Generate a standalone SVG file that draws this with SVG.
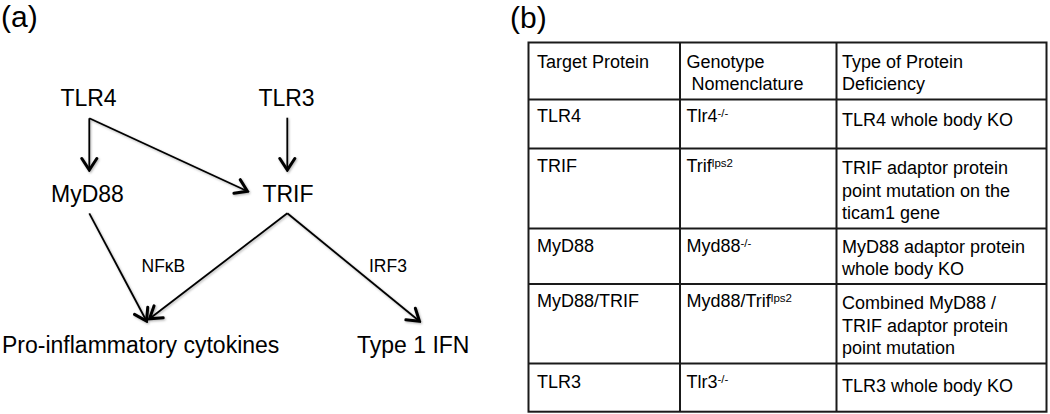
<svg xmlns="http://www.w3.org/2000/svg" width="1050" height="414" viewBox="0 0 1050 414">
<style>
text{font-family:"Liberation Sans",Arial,Helvetica,sans-serif;fill:#000}
.lbl{font-size:23px}
.sm{font-size:17.5px}
.panel{font-size:30px}
.tt{font-size:18px}
.sup{font-size:11.5px}
.conn{stroke:#000;stroke-width:1.8;fill:none;marker-end:url(#chev)}
.grid{stroke:#1a1a1a;stroke-width:2;fill:none}
</style>
<defs>
<marker id="chev" markerUnits="userSpaceOnUse" viewBox="-16 -11 18 22" markerWidth="18" markerHeight="22" refX="0" refY="0" orient="auto">
<path d="M-11.5,-7.5 L0,0 L-11.5,7.5" fill="none" stroke="#000" stroke-width="3" stroke-linecap="round" stroke-linejoin="miter"/>
</marker>
<filter id="sh" x="-20%" y="-20%" width="140%" height="140%">
<feDropShadow dx="1" dy="1.2" stdDeviation="0.9" flood-color="#000" flood-opacity="0.3"/>
</filter>
</defs>
<rect width="1050" height="414" fill="#fff"/>

<text class="panel" x="1" y="27">(a)</text>
<text class="panel" x="510" y="28">(b)</text>

<g id="connectors" filter="url(#sh)">
<path class="conn" d="M89.3,118.3 L89.3,170"/>
<path class="conn" d="M89.3,118.3 L247.5,191.3"/>
<path class="conn" d="M287.3,117.7 L287.3,170"/>
<path class="conn" d="M89.3,213.3 L146.5,321"/>
<path class="conn" d="M287.3,213.3 L149.5,318.8"/>
<path class="conn" d="M287.3,213.3 L419.5,321.3"/>
</g>

<g id="node-tlr4"><text class="lbl" x="88.5" y="106" text-anchor="middle">TLR4</text></g>
<g id="node-tlr3"><text class="lbl" x="286.5" y="106" text-anchor="middle">TLR3</text></g>
<g id="node-myd88"><text class="lbl" x="87.5" y="201.7" text-anchor="middle">MyD88</text></g>
<g id="node-trif"><text class="lbl" x="288" y="201.7" text-anchor="middle">TRIF</text></g>
<g id="node-proinflammatory"><text class="lbl" x="2" y="353.3">Pro-inflammatory cytokines</text></g>
<g id="node-type1ifn"><text class="lbl" x="357" y="353">Type 1 IFN</text></g>
<g id="label-nfkb"><text class="sm" x="141.5" y="272.3">NFκB</text></g>
<g id="label-irf3"><text class="sm" x="369" y="272.3">IRF3</text></g>

<g id="table">
<rect class="grid" x="528.5" y="42.5" width="518" height="369.2"/>
<line class="grid" x1="680" y1="42.5" x2="680" y2="411.7"/>
<line class="grid" x1="836.5" y1="42.5" x2="836.5" y2="411.7"/>
<line class="grid" x1="528.5" y1="99.5" x2="1046.5" y2="99.5"/>
<line class="grid" x1="528.5" y1="148.5" x2="1046.5" y2="148.5"/>
<line class="grid" x1="528.5" y1="228.5" x2="1046.5" y2="228.5"/>
<line class="grid" x1="528.5" y1="284" x2="1046.5" y2="284"/>
<line class="grid" x1="528.5" y1="363.5" x2="1046.5" y2="363.5"/>

<g id="row-header">
<text class="tt" x="537" y="68.3">Target Protein</text>
<text class="tt" x="686.5" y="68.3">Genotype</text>
<text class="tt" x="691.5" y="90">Nomenclature</text>
<text class="tt" x="842" y="68.3">Type of Protein</text>
<text class="tt" x="842" y="90">Deficiency</text>
</g>
<g id="row-tlr4">
<text class="tt" x="537" y="122.3">TLR4</text>
<text class="tt" x="686.5" y="122.3">Tlr4<tspan class="sup" dy="-5">-/-</tspan></text>
<text class="tt" x="842" y="125.7">TLR4 whole body KO</text>
</g>
<g id="row-trif">
<text class="tt" x="537" y="171.7">TRIF</text>
<text class="tt" x="686.5" y="171.7">Trif<tspan class="sup" dy="-5">lps2</tspan></text>
<text class="tt" x="842" y="174.3">TRIF adaptor protein</text>
<text class="tt" x="842" y="196.7">point mutation on the</text>
<text class="tt" x="842" y="218.5">ticam1 gene</text>
</g>
<g id="row-myd88">
<text class="tt" x="537" y="251.7">MyD88</text>
<text class="tt" x="686.5" y="251.7">Myd88<tspan class="sup" dy="-5">-/-</tspan></text>
<text class="tt" x="842" y="252.5">MyD88 adaptor protein</text>
<text class="tt" x="842" y="275">whole body KO</text>
</g>
<g id="row-myd88-trif">
<text class="tt" x="537" y="306.7">MyD88/TRIF</text>
<text class="tt" x="686.5" y="306.7">Myd88/Trif<tspan class="sup" dy="-5">lps2</tspan></text>
<text class="tt" x="842" y="309">Combined MyD88 /</text>
<text class="tt" x="842" y="331.5">TRIF adaptor protein</text>
<text class="tt" x="842" y="353.5">point mutation</text>
</g>
<g id="row-tlr3">
<text class="tt" x="537" y="388.3">TLR3</text>
<text class="tt" x="686.5" y="388.3">Tlr3<tspan class="sup" dy="-5">-/-</tspan></text>
<text class="tt" x="842" y="391.5">TLR3 whole body KO</text>
</g>
</g>
</svg>
